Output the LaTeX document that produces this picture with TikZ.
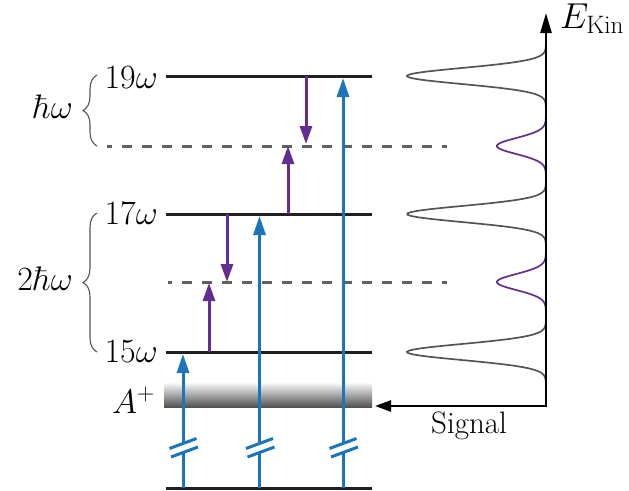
\RequirePackage{fix-cm}
\documentclass[tikz,border=0pt]{standalone}
\usetikzlibrary{arrows.meta,decorations.pathreplacing}
\definecolor{lvlblack}{HTML}{231F20}
\definecolor{blueC}{HTML}{1B75BC}
\definecolor{purpleC}{HTML}{662D91}
\definecolor{dashgray}{HTML}{606060}
\definecolor{curvegray}{HTML}{555555}
\begin{document}
\begin{tikzpicture}[x=1pt,y=-1pt,
  level/.style={draw=lvlblack,line width=3pt},
  dashlevel/.style={draw=dashgray,line width=3pt,dash pattern=on 10pt off 10pt},
  bluel/.style={draw=blueC,line width=3pt},
  bluearr/.style={bluel,-{Triangle[length=19pt,width=12pt]}},
  purparr/.style={draw=purpleC,line width=3pt,-{Triangle[length=18pt,width=12pt]}},
  lbl/.style={inner sep=0pt,font=\fontsize{34}{40}\selectfont},
  sig/.style={inner sep=0pt,font=\fontsize{31}{36}\selectfont},
  brc/.style={draw=curvegray,line width=1.1pt,decorate,decoration={brace,amplitude=14pt}},
  spec/.style={line width=1.7pt,samples=70,variable=\t},
  declare function={g(\u)=exp(-min((\u/8)^2/2,9));
    f(\u)=139*g(\u-76)+49*g(\u-146)+139*g(\u-214)+49*g(\u-282)+139*g(\u-352);}
]
\useasboundingbox (0,0) rectangle (629,490);

% A+ band
\shade[top color=white,bottom color=black!68] (164,382) rectangle (372,407);

% level lines
\coordinate (L19a) at (166,76);  \coordinate (L19b) at (372,76);
\coordinate (L17a) at (166,214); \coordinate (L17b) at (372,214);
\coordinate (L15a) at (166,352); \coordinate (L15b) at (372,352);
\coordinate (L0a)  at (166,488); \coordinate (L0b)  at (372,488);
\coordinate (D18a) at (107,146); \coordinate (D18b) at (447,146);
\coordinate (D16a) at (168,282); \coordinate (D16b) at (447,282);
\draw[level] (L19a) -- (L19b);
\draw[level] (L17a) -- (L17b);
\draw[level] (L15a) -- (L15b);
\draw[level] (L0a) -- (L0b);
\draw[dashlevel,dash phase=5pt] (D18a) -- (D18b);
\draw[dashlevel,dash phase=6pt] (D16a) -- (D16b);

% level labels
\node[lbl,anchor=base east] (t19) at (158,88) {$19\omega$};
\node[lbl,anchor=base east] (t17) at (158,224) {$17\omega$};
\node[lbl,anchor=base east] (t15) at (158,362) {$15\omega$};
\node[lbl,anchor=base east] (tA) at (155,413) {$A^{+}$};
\node[lbl,anchor=base east] (th1) at (73,118) {$\hbar\omega$};
\node[lbl,anchor=base east] (th2) at (73,290) {$2\hbar\omega$};

% braces
\coordinate (B1a) at (97,146); \coordinate (B1b) at (97,75);
\coordinate (B2a) at (97,352); \coordinate (B2b) at (97,213);
\draw[brc] (B1a) -- (B1b);
\draw[brc] (B2a) -- (B2b);

% blue arrows with breaks
\foreach \x/\top [count=\i] in {183/354,259.5/216,343/78}{
  \coordinate (bs\i) at (\x,488);
  \coordinate (bl\i) at (\x,452.5);
  \coordinate (bu\i) at (\x,443.5);
  \coordinate (bt\i) at (\x,\top);
  \coordinate (bm\i) at (\x+1.5,452);
  \draw[bluel] (bs\i) -- (bl\i);
  \draw[bluearr] (bu\i) -- (bt\i);
  \draw[bluel] ([shift={(-13.5,5)}]bu\i) -- ([shift={(13.5,-5)}]bu\i);
  \draw[bluel] ([shift={(-13.5,5)}]bm\i) -- ([shift={(13.5,-5)}]bm\i);
}

% purple arrows
\coordinate (p1a) at (209,352); \coordinate (p1b) at (209,283);
\coordinate (p2a) at (227,214); \coordinate (p2b) at (227,282);
\coordinate (p3a) at (288,214); \coordinate (p3b) at (288,146);
\coordinate (p4a) at (306,76);  \coordinate (p4b) at (306,144);
\draw[purparr] (p1a) -- (p1b);
\draw[purparr] (p2a) -- (p2b);
\draw[purparr] (p3a) -- (p3b);
\draw[purparr] (p4a) -- (p4b);

% spectrum
\draw[spec,curvegray,domain=46:123] plot ({546-f(\t)},{\t});
\draw[spec,purpleC,domain=123:169] plot ({546-f(\t)},{\t});
\draw[spec,curvegray,domain=169:259] plot ({546-f(\t)},{\t});
\draw[spec,purpleC,domain=259:305] plot ({546-f(\t)},{\t});
\draw[spec,curvegray,domain=305:386] plot ({546-f(\t)},{\t});

% axes
\coordinate (ax0) at (546,406);
\coordinate (axT) at (546,13);
\coordinate (axL) at (375,406);
\draw[line width=2.5pt,{Triangle[length=16pt,width=11pt]}-{Triangle[length=20pt,width=11pt]}] (axL) -- (ax0) -- (axT);
\node[lbl,anchor=base west,font=\fontsize{36}{42}\selectfont] (ek) at (560,28) {$E_{\mathrm{Kin}}$};
\node[sig,anchor=base] (sg) at (469,433) {Signal};
\end{tikzpicture}
\end{document}
